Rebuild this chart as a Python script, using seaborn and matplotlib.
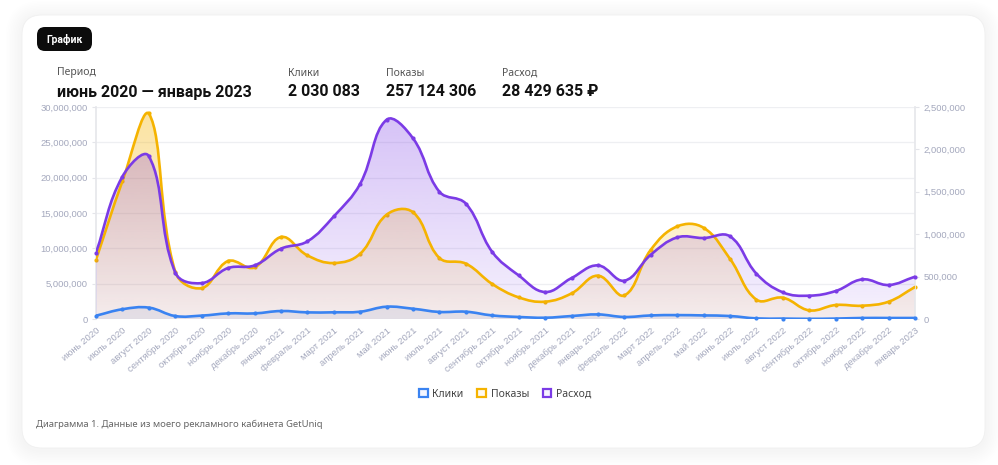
import numpy as np
import pandas as pd
import matplotlib
matplotlib.use("Agg")
import matplotlib.pyplot as plt
import seaborn as sns
from matplotlib.path import Path
from matplotlib.patches import PathPatch, FancyBboxPatch, Patch

# data
months = ['июнь 2020', 'июль 2020', 'август 2020', 'сентябрь 2020', 'октябрь 2020',
          'ноябрь 2020', 'декабрь 2020', 'январь 2021', 'февраль 2021', 'март 2021',
          'апрель 2021', 'май 2021', 'июнь 2021', 'июль 2021', 'август 2021',
          'сентябрь 2021', 'октябрь 2021', 'ноябрь 2021', 'декабрь 2021', 'январь 2022',
          'февраль 2022', 'март 2022', 'апрель 2022', 'май 2022', 'июнь 2022',
          'июль 2022', 'август 2022', 'сентябрь 2022', 'октябрь 2022', 'ноябрь 2022',
          'декабрь 2022', 'январь 2023']
impressions = [8390000, 19500000, 29100000, 6680000, 4370000, 8200000, 7300000, 11600000,
               9000000, 7920000, 9240000, 14760000, 15100000, 8630000, 7830000, 4950000,
               3060000, 2450000, 3620000, 6130000, 3340000, 9800000, 13100000, 12900000,
               8490000, 2730000, 3010000, 1220000, 1980000, 1880000, 2450000, 4530000]
spend = [782000, 1680000, 1920000, 548000, 423000, 601000, 632000, 829000, 915000,
         1210000, 1595000, 2350000, 2130000, 1500000, 1360000, 790000, 514000, 318000,
         483000, 632000, 452000, 758000, 962000, 955000, 974000, 534000, 314000, 275000,
         330000, 467000, 401000, 499000]
clicks = [39000, 115000, 134000, 35000, 40000, 66000, 66000, 94000, 78000, 79000, 86000,
          145000, 121000, 83000, 86000, 42000, 24000, 15000, 35000, 54000, 24000, 42000,
          46000, 42000, 35000, 7000, 5000, 2000, 5000, 12000, 12000, 12000]

df = pd.DataFrame({'idx': np.arange(len(months)), 'month': months,
                   'impressions': impressions, 'spend': spend, 'clicks': clicks})

BLUE = '#3a83f1'
ORANGE = '#f5b300'
PURPLE = '#7b3be6'
TICK = '#a4a8bd'
GRID = '#eeeff2'
BOLD = ['Roboto', 'DejaVu Sans']

sns.set_theme(style="white")
plt.rcParams['font.family'] = ['Noto Sans', 'DejaVu Sans']

W, H = 998, 465
fig = plt.figure(figsize=(W / 100, H / 100), dpi=100)
fig.patch.set_facecolor('white')

# background layer in pixel units
bg = fig.add_axes([0, 0, 1, 1])
bg.set_xlim(0, W)
bg.set_ylim(H, 0)
bg.axis('off')
for k in range(10):
    e = 2 + k * 1.6
    bg.add_patch(FancyBboxPatch((22 - e, 17 - e), 963 + 2 * e, 433 + 2 * e,
                                boxstyle="round,pad=0,rounding_size=%f" % (20 + e),
                                facecolor='#000000', edgecolor='none', alpha=0.005))
bg.add_patch(FancyBboxPatch((22, 15), 963, 433, boxstyle="round,pad=0,rounding_size=20",
                            facecolor='white', edgecolor='#f0f0f0', linewidth=0.6))
bg.add_patch(FancyBboxPatch((37, 27), 55, 24, boxstyle="round,pad=0,rounding_size=8",
                            facecolor='#0c0c0c', edgecolor='none'))
bg.text(64.5, 39.5, 'График', color='white', fontsize=7.5, fontweight='bold',
        family=BOLD, ha='center', va='center')

stats = [(57, 'Период', 'июнь 2020 — январь 2023'),
         (288, 'Клики', '2 030 083'),
         (386, 'Показы', '257 124 306'),
         (502, 'Расход', '28 429 635 ₽')]
for x, lab, val in stats:
    bg.text(x, 73, lab, color='#555555', fontsize=7.5, ha='left', va='center')
    bg.text(x, 92, val, color='#111111', fontsize=11.5, fontweight='bold', family=BOLD,
            ha='left', va='center')

bg.text(36, 424, 'Диаграмма 1. Данные из моего рекламного кабинета GetUniq',
        color='#666666', fontsize=6.8, ha='left', va='center')

# chart axes: left = impressions, right = spend and clicks
L, R, T, B = 96, 915, 107, 319
ax = fig.add_axes([L / W, 1 - B / H, (R - L) / W, (B - T) / H])
ax.patch.set_alpha(0)
ax2 = ax.twinx()
ax2.patch.set_alpha(0)
n = len(months)
for a, top in ((ax, 30000000), (ax2, 2500000)):
    a.set_autoscale_on(False)
    a.set_xlim(0, n - 1)
    a.set_ylim(0, top)


def smooth_path(a, xs, ys, tension=0.4, close=False):
    pts = a.transData.transform(np.column_stack([xs, ys]))
    m = len(pts)
    prev_cp, next_cp = [], []
    for i in range(m):
        p0 = pts[max(i - 1, 0)]
        p1 = pts[i]
        p2 = pts[min(i + 1, m - 1)]
        d01 = np.hypot(*(p1 - p0))
        d12 = np.hypot(*(p2 - p1))
        tot = d01 + d12
        s01 = d01 / tot if tot else 0
        s12 = d12 / tot if tot else 0
        prev_cp.append(p1 - tension * s01 * (p2 - p0))
        next_cp.append(p1 + tension * s12 * (p2 - p0))
    box = a.bbox
    verts, codes = [pts[0]], [Path.MOVETO]
    for i in range(m - 1):
        c1 = next_cp[i].copy()
        c2 = prev_cp[i + 1].copy()
        for c in (c1, c2):
            c[1] = min(max(c[1], box.y0), box.y1)
        verts += [c1, c2, pts[i + 1]]
        codes += [Path.CURVE4] * 3
    verts = list(a.transData.inverted().transform(np.array(verts)))
    if close:
        verts += [(xs[-1], 0), (xs[0], 0), (xs[0], 0)]
        codes += [Path.LINETO, Path.LINETO, Path.CLOSEPOLY]
    return Path(np.array(verts), codes)


def gradient_fill(a, xs, ys, color, a_top, a_bot, z):
    patch = PathPatch(smooth_path(a, xs, ys, close=True), transform=a.transData,
                      facecolor='none', edgecolor='none')
    a.add_patch(patch)
    rgb = matplotlib.colors.to_rgb(color)
    grad = np.zeros((256, 1, 4))
    grad[..., :3] = rgb
    grad[:, 0, 3] = np.linspace(a_top, a_bot, 256)
    im = a.imshow(grad, extent=(0, n - 1, 0, a.get_ylim()[1]), aspect='auto',
                  interpolation='bilinear', zorder=z)
    im.set_clip_path(patch)


x = df['idx'].values
gradient_fill(ax, x, df['impressions'].values, ORANGE, 0.38, 0.07, 1)
gradient_fill(ax2, x, df['spend'].values, PURPLE, 0.32, 0.07, 1)
gradient_fill(ax2, x, df['clicks'].values, '#6a7fb8', 0.16, 0.12, 1.5)

# lines on top of all fills
for a, col, c in ((ax, 'impressions', ORANGE), (ax2, 'spend', PURPLE), (ax2, 'clicks', BLUE)):
    ax2.add_patch(PathPatch(smooth_path(a, x, df[col].values), transform=a.transData,
                            facecolor='none', edgecolor=c, linewidth=1.9, zorder=5,
                            capstyle='round', joinstyle='round'))

sns.scatterplot(data=df, x='idx', y='impressions', ax=ax, color=ORANGE, s=9,
                linewidth=0, zorder=6, clip_on=False, legend=False)
sns.scatterplot(data=df, x='idx', y='spend', ax=ax2, color=PURPLE, s=9,
                linewidth=0, zorder=6, clip_on=False, legend=False)
sns.scatterplot(data=df, x='idx', y='clicks', ax=ax2, color=BLUE, s=9,
                linewidth=0, zorder=6, clip_on=False, legend=False)

for a, top, step in ((ax, 30000000, 5000000), (ax2, 2500000, 500000)):
    a.set_xlim(0, n - 1)
    a.set_ylim(0, top)
    a.set_yticks(np.arange(0, top + 1, step))
    a.set_yticklabels(['{:,}'.format(v) for v in range(0, top + 1, step)],
                      fontsize=6.8, color=TICK, family=['Liberation Sans', 'DejaVu Sans'])
    a.tick_params(axis='y', length=3, width=0.8, color='#e4e5ea', pad=3)
    a.set_xlabel('')
    a.set_ylabel('')
    for s in a.spines.values():
        s.set_visible(False)

ax.yaxis.grid(True, color=GRID, linewidth=0.9)
ax.set_axisbelow(True)
ax.spines['left'].set_visible(True)
ax.spines['left'].set_color('#e6e7eb')
ax2.spines['right'].set_visible(True)
ax2.spines['right'].set_color('#e6e7eb')

ax.set_xticks(x)
ax.set_xticklabels(months, rotation=40, ha='right', rotation_mode='anchor',
                   fontsize=6.8, color=TICK, family=['Liberation Sans', 'DejaVu Sans'])
ax.tick_params(axis='x', length=0, pad=5)
ax2.tick_params(axis='x', length=0, labelbottom=False)

handles = [Patch(facecolor='#f4f6ff', edgecolor=BLUE, linewidth=1.6),
           Patch(facecolor='#fffaf0', edgecolor=ORANGE, linewidth=1.6),
           Patch(facecolor='#f7f3ff', edgecolor=PURPLE, linewidth=1.6)]
fig.legend(handles, ['Клики', 'Показы', 'Расход'], loc='center',
           bbox_to_anchor=(505 / W, 1 - 394 / H), ncol=3, frameon=False,
           handlelength=0.85, handleheight=0.85, columnspacing=1.3, handletextpad=0.45,
           prop={'size': 7.5}, labelcolor='#444444')

fig.savefig('out.png', dpi=100)
